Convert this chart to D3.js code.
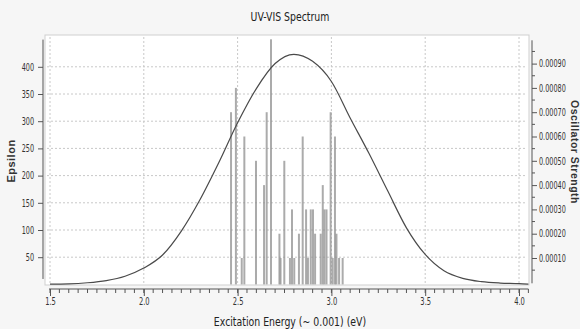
<!DOCTYPE html>
<html>
<head>
<meta charset="utf-8">
<script src="https://cdn.jsdelivr.net/npm/d3@7"></script>
<style>
  html, body { margin: 0; padding: 0; background: #f6f6f6; }
  svg { display: block; }
  .narrow { font-family: "DejaVu Sans Condensed", "Liberation Sans Narrow", sans-serif; }
</style>
</head>
<body>
<div id="chart"></div>
<script>
// Spectrum data
const energyTicks = [1.5, 2.0, 2.5, 3.0, 3.5, 4.0];
const epsilonTicks = [50, 100, 150, 200, 250, 300, 350, 400];
const strengthTicks = [0.0001, 0.0002, 0.0003, 0.0004, 0.0005, 0.0006, 0.0007, 0.0008, 0.0009];

// broadened curve (eV, epsilon)
const curveEnergy = [1.50, 1.60, 1.70, 1.80, 1.90, 2.00, 2.10, 2.20, 2.30, 2.40, 2.50, 2.60, 2.70, 2.80,
  2.90, 3.00, 3.10, 3.20, 3.30, 3.40, 3.50, 3.60, 3.70, 3.80, 3.90, 4.00, 4.05];
const curveEpsilon = [0.5, 1, 3, 7, 15, 30, 54, 98, 156, 224, 297, 360, 406, 423,
  410, 373, 306, 241, 172, 104, 55, 25, 11, 5, 2.5, 1.5, 0.5];

// stick transitions (eV, oscillator strength)
const barEnergy = [2.465, 2.491, 2.522, 2.536, 2.598, 2.641, 2.655, 2.678, 2.723, 2.729, 2.749, 2.779, 2.790, 2.802,
  2.827, 2.847, 2.865, 2.875, 2.890, 2.902, 2.913, 2.943, 2.954, 2.963, 2.974, 2.996, 3.007, 3.019, 3.027, 3.041, 3.060];
const barStrength = [0.0007, 0.0008, 0.0001, 0.0006, 0.0005, 0.0004, 0.0007, 0.0010, 0.0002, 0.0001, 0.0005, 0.0001, 0.0003, 0.0001,
  0.0002, 0.0006, 0.0003, 0.0001, 0.0003, 0.0003, 0.0002, 0.0002, 0.0004, 0.0003, 0.0003, 0.0007, 0.0001, 0.0006, 0.0002, 0.0001, 0.0001];

const width = 580, height = 329;
const box = { left: 45, right: 529, top: 35, bottom: 285 };

const svg = d3.select('#chart').append('svg')
  .attr('width', width)
  .attr('height', height);

svg.append('rect')
  .attr('width', width).attr('height', height)
  .attr('fill', '#f6f6f6');

// plot box
svg.append('rect')
  .attr('x', box.left).attr('y', box.top)
  .attr('width', box.right - box.left).attr('height', box.bottom - box.top)
  .attr('fill', '#ffffff')
  .attr('stroke', '#cfcfcf');

const x = d3.scaleLinear().domain([1.5, 4.0]).range([50, 519]);
const yEps = d3.scaleLinear().domain([0, 450]).range([284.4, 39.6]);
const yOsc = d3.scaleLinear().domain([0, 0.001]).range([282.3, 39.3]);

// squeeze text horizontally, the reference uses a very narrow face
function narrow(sel, k) {
  sel.each(function () {
    const t = d3.select(this);
    const x0 = +t.attr('x') || 0;
    t.attr('x', x0 / k).attr('transform', `scale(${k},1)`);
  });
}

// gridlines
svg.append('g')
  .selectAll('line')
  .data(epsilonTicks)
  .join('line')
  .attr('x1', box.left + 2).attr('x2', box.right - 2)
  .attr('y1', d => yEps(d)).attr('y2', d => yEps(d))
  .attr('stroke', '#c8c8c8')
  .attr('stroke-dasharray', '2,2');

svg.append('g')
  .selectAll('line')
  .data(energyTicks)
  .join('line')
  .attr('x1', d => x(d)).attr('x2', d => x(d))
  .attr('y1', box.top + 2).attr('y2', box.bottom - 1)
  .attr('stroke', '#c8c8c8')
  .attr('stroke-dasharray', '2,2');

// sticks
svg.append('g')
  .selectAll('line')
  .data(barEnergy.map((e, i) => ({ e, f: barStrength[i] })))
  .join('line')
  .attr('x1', d => x(d.e)).attr('x2', d => x(d.e))
  .attr('y1', yEps(0)).attr('y2', d => yOsc(d.f))
  .attr('stroke', '#8f8f8f')
  .attr('stroke-opacity', 0.75)
  .attr('stroke-width', 2);

// curve
const line = d3.line()
  .x(d => x(d.e))
  .y(d => yEps(d.v))
  .curve(d3.curveMonotoneX);

svg.append('path')
  .datum(curveEnergy.map((e, i) => ({ e, v: curveEpsilon[i] })))
  .attr('fill', 'none')
  .attr('stroke', '#4a4a4a')
  .attr('stroke-width', 1.2)
  .attr('d', line);

// left axis
const leftAxis = svg.append('g')
  .attr('class', 'narrow')
  .attr('transform', 'translate(43,0)')
  .call(d3.axisLeft(yEps).tickValues(epsilonTicks).tickSize(5).tickPadding(4));
leftAxis.select('.domain').attr('d', `M0,${yEps(450)}V${yEps(10)}`).attr('stroke', '#555');
leftAxis.selectAll('.tick line').attr('stroke', '#555');
leftAxis.selectAll('text').attr('font-size', 10).attr('fill', '#333').call(narrow, 0.72);

// right axis
const minorOsc = d3.range(0.00005, 0.001, 0.0001);
svg.append('g')
  .selectAll('line')
  .data(minorOsc)
  .join('line')
  .attr('x1', 532).attr('x2', 535)
  .attr('y1', d => yOsc(d)).attr('y2', d => yOsc(d))
  .attr('stroke', '#555');

const rightAxis = svg.append('g')
  .attr('class', 'narrow')
  .attr('transform', 'translate(532,0)')
  .call(d3.axisRight(yOsc).tickValues(strengthTicks).tickSize(5).tickPadding(2)
    .tickFormat(d3.format('.5f')));
rightAxis.select('.domain').attr('d', `M0,${yOsc(0.001) + 1}V${yOsc(0) + 1}`).attr('stroke', '#555');
rightAxis.selectAll('.tick line').attr('stroke', '#555');
rightAxis.selectAll('text').attr('font-size', 10).attr('fill', '#333').call(narrow, 0.72);

// bottom ruler
const minorE = d3.range(1.5, 4.06, 0.05);
svg.append('g')
  .selectAll('line')
  .data(minorE)
  .join('line')
  .attr('x1', d => x(d)).attr('x2', d => x(d))
  .attr('y1', 289).attr('y2', 293)
  .attr('stroke', '#555');

const bottomAxis = svg.append('g')
  .attr('class', 'narrow')
  .attr('transform', 'translate(0,289)')
  .call(d3.axisBottom(x).tickValues(energyTicks).tickSize(7).tickPadding(2)
    .tickFormat(d3.format('.1f')));
bottomAxis.select('.domain').attr('d', `M${x(1.5) - 1},0H${x(4.05)}`).attr('stroke', '#555');
bottomAxis.selectAll('.tick line').attr('stroke', '#555');
bottomAxis.selectAll('text').attr('font-size', 10).attr('fill', '#333').call(narrow, 0.75);

// titles
svg.append('text')
  .attr('class', 'narrow')
  .attr('transform', 'translate(290,21) scale(0.8,1)')
  .attr('text-anchor', 'middle')
  .attr('font-size', 13)
  .attr('fill', '#222')
  .text('UV-VIS Spectrum');

svg.append('text')
  .attr('class', 'narrow')
  .attr('transform', 'translate(290,326) scale(0.8,1)')
  .attr('text-anchor', 'middle')
  .attr('font-size', 13)
  .attr('fill', '#222')
  .text('Excitation Energy (~ 0.001) (eV)');

svg.append('text')
  .attr('transform', 'translate(15,161) rotate(-90)')
  .attr('text-anchor', 'middle')
  .attr('font-family', 'Liberation Sans, Arial, sans-serif')
  .attr('font-weight', 'bold')
  .attr('font-size', 11)
  .attr('letter-spacing', 0.5)
  .attr('fill', '#333')
  .text('Epsilon');

svg.append('text')
  .attr('transform', 'translate(571,152) rotate(90)')
  .attr('text-anchor', 'middle')
  .attr('font-family', 'Liberation Sans, Arial, sans-serif')
  .attr('font-weight', 'bold')
  .attr('font-size', 10.5)
  .attr('letter-spacing', 0.5)
  .attr('fill', '#333')
  .text('Oscillator Strength');
</script>
</body>
</html>
